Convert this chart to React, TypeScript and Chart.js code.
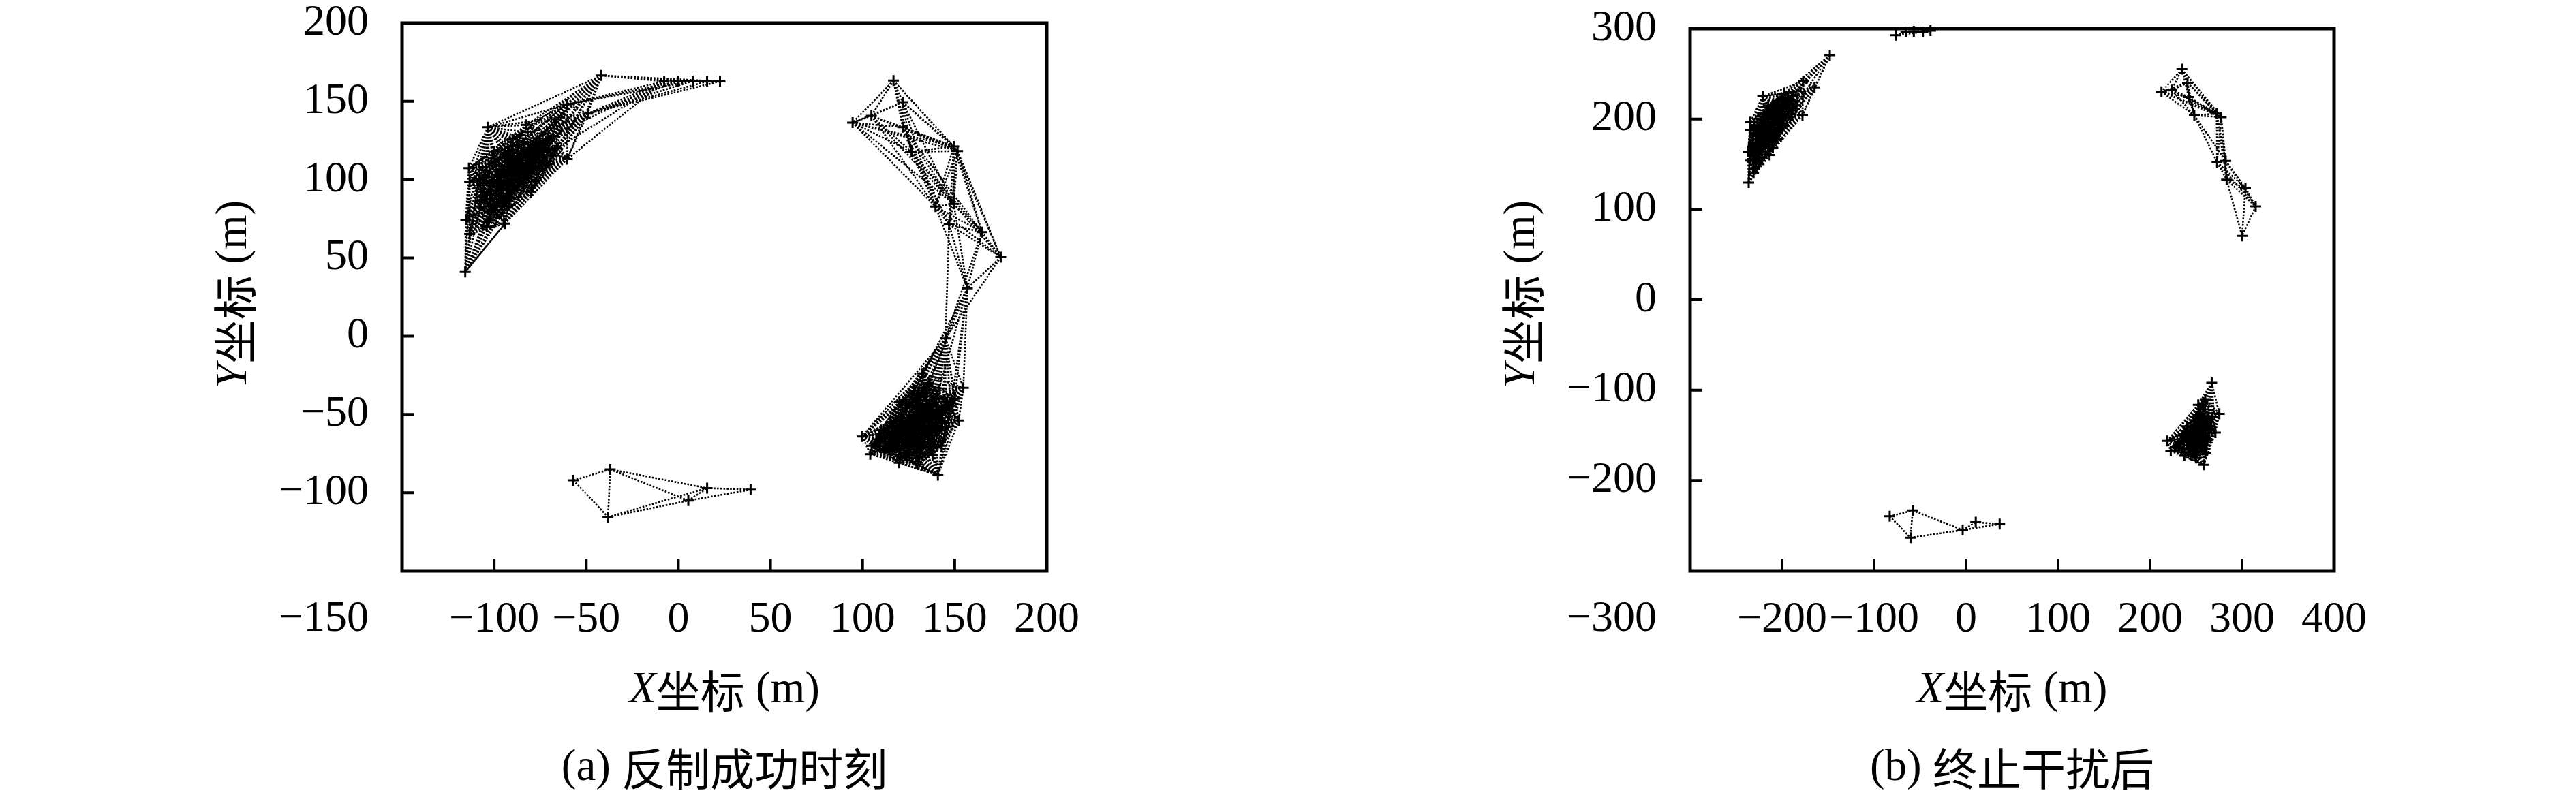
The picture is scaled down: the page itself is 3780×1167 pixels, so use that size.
import React, { useEffect, useRef } from "react";
import { Chart, registerables } from "chart.js";

Chart.register(...registerables);

type Pt = [number, number];

/* ---------------- panel (a) 反制成功时刻 ---------------- */
const A_X_TICKS = [-150, -100, -50, 0, 50, 100, 150, 200];
const A_Y_TICKS = [-150, -100, -50, 0, 50, 100, 150, 200];

const A_NORTHWEST: Pt[] = [
  [-41.8, 166.6], [-7.7, 162.8], [0.0, 162.8], [7.8, 163.0], [15.6, 162.8], [22.6, 162.8],
  [-60.3, 148.1], [-49.2, 142.2], [-103.4, 133.5], [-82.5, 135.0], [-60.3, 113.2],
  [-113.7, 107.4], [-113.3, 98.7], [-115.4, 74.3], [-113.3, 65.3], [-94.2, 71.9], [-115.7, 41.0],
  [-100, 118], [-90, 126], [-78, 121], [-70, 110], [-96, 104], [-86, 99], [-80, 92],
  [-106, 90], [-94, 86], [-88, 112], [-68, 128], [-80, 106], [-102, 80],
  [-108, 100], [-98, 95], [-90, 108], [-84, 118], [-74, 118], [-66, 120], [-92, 118],
  [-104, 70],
];

const A_EAST: Pt[] = [
  [116.8, 163.3], [121.8, 149.5], [104.8, 140.8], [94.6, 136.4], [121.8, 133.5],
  [126.6, 117.8], [149.5, 121.2], [151.6, 118.3], [139.6, 82.8], [149.5, 84.5],
  [147.0, 71.4], [164.8, 66.5], [175.0, 50.5], [156.9, 30.5], [145.0, -1.4],
  [132.5, -23.9], [154.7, -33.0], [152.2, -53.9], [99.8, -64.1], [104.2, -75.4],
  [119.9, -80.9], [140.9, -88.8],
  [110, -60], [120, -52], [130, -45], [140, -40], [125, -70], [135, -62], [115, -70],
  [128, -35], [138, -76], [145, -58], [120, -42], [108, -66], [130, -82], [148, -45],
  [112, -74], [118, -62], [126, -56], [134, -50], [143, -70], [124, -78], [132, -70],
  [136, -30], [150, -40], [115, -55], [105, -70], [128, -60], [138, -52],
];

const A_SOUTH: Pt[] = [
  [-57.0, -92.1], [-37.0, -85.1], [-38.2, -115.6], [5.4, -105.1], [15.6, -97.1], [39.2, -98.1],
];

const A_LINK_RANGES = [75, 80, 60]; // communication range per group (m)

/* ---------------- panel (b) 终止干扰后 ---------------- */
const B_X_TICKS = [-300, -200, -100, 0, 100, 200, 300, 400];
const B_Y_TICKS = [-300, -200, -100, 0, 100, 200, 300];

const B_NORTHWEST: Pt[] = [
  [-148.1, 270.6], [-177.0, 241.8], [-164.7, 235.0], [-221.0, 225.0], [-177.8, 204.1],
  [-234.6, 196.6], [-234.6, 187.8], [-237.0, 164.0], [-234.6, 154.0], [-213.6, 160.2],
  [-236.3, 129.6],
  [-220, 205], [-210, 195], [-200, 212], [-195, 220], [-225, 182], [-205, 178],
  [-190, 205], [-215, 215], [-228, 170], [-200, 192], [-225, 150],
  [-230, 190], [-222, 195], [-212, 205], [-205, 220], [-198, 228], [-185, 215],
  [-218, 175], [-210, 168], [-230, 160], [-231, 140], [-188, 225], [-215, 185],
];

const B_NORTH: Pt[] = [
  [-76.5, 292.7], [-65.4, 296.2], [-56.8, 297.0], [-46.9, 296.2], [-38.7, 297.7],
];

const B_NORTHEAST: Pt[] = [
  [234.6, 255.1], [240.7, 240.1], [212.4, 230.0], [223.5, 232.0], [242.0, 224.2],
  [248.1, 204.0], [272.4, 206.0], [277.3, 202.1], [272.8, 152.2], [282.2, 153.6],
  [283.2, 132.9], [303.7, 123.4], [314.8, 103.2], [300.0, 70.7],
];

const B_SOUTHEAST: Pt[] = [
  [267.0, -91.9], [252.4, -116.3], [275.3, -126.2], [271.0, -147.0], [218.5, -156.3],
  [222.5, -167.3], [237.3, -172.7], [258.5, -182.6],
  [240, -140], [235, -150], [255, -135], [248, -160], [258, -165], [232, -160],
  [262, -155], [258, -125], [265, -140], [245, -172],
  [245, -145], [252, -150], [240, -155], [228, -163], [250, -175], [260, -170],
  [268, -130], [260, -110], [250, -130], [242, -165], [255, -145],
];

const B_SOUTH: Pt[] = [
  [-83.0, -239.6], [-58.0, -233.1], [-60.4, -263.3], [-3.7, -254.7], [10.5, -246.1], [36.5, -248.2],
];

const B_LINK_RANGES = [75, 75, 75, 75, 62];

/* ---------------- helpers ---------------- */
const SERIF = '"Liberation Serif", "DejaVu Serif", serif';
const CJK = '"Noto Sans CJK SC", "Noto Sans CJK JP", sans-serif';
const W = 1890;
const H = 1167;

const fmt = (v: number) => (v < 0 ? "\u2212" + Math.abs(v) : String(v));

function linkSegments(nodes: Pt[], range: number) {
  const out: { x: number; y: number | null }[] = [];
  for (let i = 0; i < nodes.length; i++) {
    for (let j = i + 1; j < nodes.length; j++) {
      const [x1, y1] = nodes[i];
      const [x2, y2] = nodes[j];
      if (Math.hypot(x2 - x1, y2 - y1) <= range) {
        out.push({ x: x1, y: y1 }, { x: x2, y: y2 }, { x: x2, y: null });
      }
    }
  }
  return out;
}

type Part = { t: string; f: string };

function drawRich(ctx: CanvasRenderingContext2D, parts: Part[], cx: number, cy: number) {
  ctx.textAlign = "left";
  ctx.textBaseline = "middle";
  const widths = parts.map((p) => {
    ctx.font = p.f;
    return ctx.measureText(p.t).width;
  });
  const total = widths.reduce((a, b) => a + b, 0);
  let x = cx - total / 2;
  parts.forEach((p, i) => {
    ctx.font = p.f;
    ctx.fillText(p.t, x, cy);
    x += widths[i];
  });
}

type Area = { left: number; top: number; right: number; bottom: number };

type PanelProps = {
  groups: Pt[][];
  ranges: number[];
  xTicks: number[];
  yTicks: number[];
  captionTag: string;
  captionZh: string;
  area: Area;
  offsetLeft: number;
};

function Panel({ groups, ranges, xTicks, yTicks, captionTag, captionZh, area, offsetLeft }: PanelProps) {
  const ref = useRef<HTMLCanvasElement | null>(null);

  useEffect(() => {
    const canvas = ref.current;
    if (!canvas) return;
    const xMin = xTicks[0];
    const xMax = xTicks[xTicks.length - 1];
    const yMin = yTicks[0];
    const yMax = yTicks[yTicks.length - 1];
    const tickFont = { family: SERIF, size: 64, lineHeight: 1 };

    const nodes = groups.flat().map(([x, y]) => ({ x, y }));
    const datasets: any[] = [
      {
        label: "nodes",
        data: nodes,
        showLine: false,
        pointStyle: "cross",
        pointRadius: 8,
        pointBorderWidth: 3,
        pointBorderColor: "#000",
        pointBackgroundColor: "#000",
        borderColor: "#000",
        clip: false,
        order: 0,
      },
      ...groups.map((g, i) => ({
        label: "links" + i,
        data: linkSegments(g, ranges[i]),
        showLine: true,
        spanGaps: false,
        pointRadius: 0,
        pointHitRadius: 0,
        borderColor: "#000",
        borderWidth: 2.6,
        borderDash: [2.6, 2.2],
        order: 1,
      })),
    ];

    const decor = {
      id: "decor",
      afterDraw(chart: any) {
        const { ctx, chartArea: a, scales } = chart;
        const xs = scales.x;
        const ys = scales.y;
        ctx.save();
        ctx.strokeStyle = "#000";
        ctx.lineWidth = 4;
        ctx.beginPath();
        xTicks.slice(1, -1).forEach((v) => {
          const px = xs.getPixelForValue(v);
          ctx.moveTo(px, a.bottom);
          ctx.lineTo(px, a.bottom - 18);
        });
        yTicks.slice(1, -1).forEach((v) => {
          const py = ys.getPixelForValue(v);
          ctx.moveTo(a.left, py);
          ctx.lineTo(a.left + 18, py);
        });
        ctx.stroke();
        ctx.lineWidth = 5;
        ctx.strokeRect(a.left, a.top, a.right - a.left, a.bottom - a.top);

        // shared corner label (min of both axes)
        ctx.fillStyle = "#000";
        ctx.font = `64px ${SERIF}`;
        ctx.textBaseline = "middle";
        ctx.textAlign = "right";
        ctx.fillText(fmt(yMin), a.left - 49, a.bottom + 71);

        const cx = (a.left + a.right) / 2;
        drawRich(
          ctx,
          [
            { t: "X", f: `italic 65px ${SERIF}` },
            { t: "坐标", f: `65px ${CJK}` },
            { t: " (m)", f: `65px ${SERIF}` },
          ],
          cx,
          1014
        );
        drawRich(
          ctx,
          [
            { t: captionTag, f: `65px ${SERIF}` },
            { t: captionZh, f: `65px ${CJK}` },
          ],
          cx,
          1128
        );
        ctx.save();
        ctx.translate(a.left - 246, 432);
        ctx.rotate(-Math.PI / 2);
        drawRich(
          ctx,
          [
            { t: "Y", f: `italic 65px ${SERIF}` },
            { t: "坐标", f: `65px ${CJK}` },
            { t: " (m)", f: `65px ${SERIF}` },
          ],
          0,
          0
        );
        ctx.restore();
        ctx.restore();
      },
    };

    const chart = new Chart(canvas, {
      type: "scatter",
      data: { datasets },
      options: {
        responsive: false,
        animation: false,
        events: [],
        layout: {
          autoPadding: false,
          padding: { left: 0, top: area.top, right: W - area.right, bottom: 0 },
        },
        plugins: { legend: { display: false }, tooltip: { enabled: false } },
        scales: {
          x: {
            type: "linear",
            position: "bottom",
            min: xMin,
            max: xMax,
            afterFit: (s: any) => {
              s.height = H - area.bottom;
              s.paddingLeft = 0;
              s.paddingRight = 0;
              s.paddingTop = 0;
              s.paddingBottom = 0;
            },
            afterBuildTicks: (s: any) => {
              s.ticks = xTicks.map((v) => ({ value: v }));
            },
            ticks: {
              autoSkip: false,
              maxRotation: 0,
              minRotation: 0,
              padding: 40,
              color: "#000",
              font: tickFont,
              callback: (v: any) => (Number(v) === xMin ? "" : fmt(Number(v))),
            },
            grid: { display: false, drawTicks: false },
            border: { display: false },
          },
          y: {
            type: "linear",
            position: "left",
            min: yMin,
            max: yMax,
            afterFit: (s: any) => {
              s.width = area.left;
              s.paddingLeft = 0;
              s.paddingRight = 0;
              s.paddingTop = 0;
              s.paddingBottom = 0;
            },
            afterBuildTicks: (s: any) => {
              s.ticks = yTicks.map((v) => ({ value: v }));
            },
            ticks: {
              autoSkip: false,
              padding: 49,
              color: "#000",
              font: tickFont,
              callback: (v: any) => (Number(v) === yMin ? "" : fmt(Number(v))),
            },
            grid: { display: false, drawTicks: false },
            border: { display: false },
          },
        },
      } as any,
      plugins: [decor],
    });

    return () => chart.destroy();
  }, []);

  return (
    <canvas
      ref={ref}
      width={W}
      height={H}
      style={{ position: "absolute", left: offsetLeft, top: 0, width: W, height: H }}
    />
  );
}

export default function App() {
  return (
    <div style={{ position: "absolute", left: 0, top: 0, width: 3780, height: 1167, background: "#fff" }}>
      <Panel
        groups={[A_NORTHWEST, A_EAST, A_SOUTH]}
        ranges={A_LINK_RANGES}
        xTicks={A_X_TICKS}
        yTicks={A_Y_TICKS}
        captionTag="(a) "
        captionZh="反制成功时刻"
        area={{ left: 590, top: 34, right: 1536, bottom: 838 }}
        offsetLeft={0}
      />
      <Panel
        groups={[B_NORTHWEST, B_NORTH, B_NORTHEAST, B_SOUTHEAST, B_SOUTH]}
        ranges={B_LINK_RANGES}
        xTicks={B_X_TICKS}
        yTicks={B_Y_TICKS}
        captionTag="(b) "
        captionZh="终止干扰后"
        area={{ left: 590, top: 42, right: 1535, bottom: 838 }}
        offsetLeft={1890}
      />
    </div>
  );
}
